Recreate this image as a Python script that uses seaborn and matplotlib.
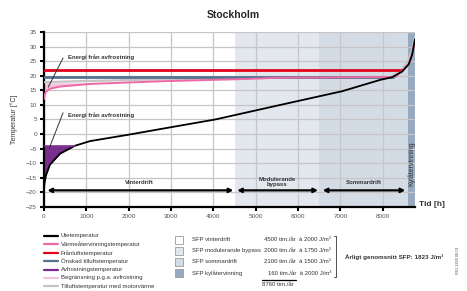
import matplotlib
matplotlib.use("Agg")
import matplotlib.pyplot as plt
import seaborn as sns
import numpy as np

# data
ute_h = [0, 15, 50, 140, 380, 730, 1090, 2000, 2740, 4040, 5580, 7040, 7940, 8220, 8450, 8610, 8690, 8760]
ute_t = [-19, -16.5, -14, -10.5, -6.7, -4, -2.4, -0.2, 1.7, 5, 10, 14.7, 18.6, 19.5, 21.4, 23.9, 27.2, 32.5]

vat_h = [0, 20, 50, 150, 380, 1090, 2740, 4800, 5500, 8300, 8450, 8610, 8690, 8760]
vat_t = [12, 13.6, 14.6, 15.6, 16.3, 17.2, 18.1, 18.9, 19.3, 19.6, 21.7, 23.9, 27.2, 32]

motor_h = [0, 1000, 2500, 4000, 5500, 8200, 8400, 8580, 8680, 8760]
motor_t = [17.8, 18.2, 18.7, 19.1, 19.4, 19.6, 21.4, 24.6, 28.2, 33]

fran_h = [0, 8450]
fran_t = [22, 22]
onsk_h = [0, 8250]
onsk_t = [19.5, 19.5]
avfrost_t = -4
begr_t = 17.6
begr_max_h = 300

band_edges = [0, 4500, 6500, 8600, 8760]
band_colors = ["#ffffff", "#e3e8ef", "#d3dbe5", "#98aabf"]

legend_lines = ["Utetemperatur", "Värmeåtervinningstemperatur", "Frånluftstemperatur",
                "Önskad tilluftstemperatur", "Avfrostningstemperatur",
                "Begränsning p.g.a. avfrostning", "Tilluftstemperatur med motorvärme"]
line_colors = ["#000000", "#ee6aa7", "#e2001a", "#557390", "#7b2d8e", "#f4c6de", "#c4c4c4"]

sfp_labels = ["SFP vinterdrift", "SFP modulerande bypass", "SFP sommardrift", "SFP kylåtervinning"]
sfp_hours = [4500, 2000, 2100, 160]
sfp_values = [2000, 1750, 1500, 2000]

sns.set_style("white")
plt.rcParams["font.family"] = ["Liberation Sans", "DejaVu Sans"]

fig = plt.figure(figsize=(4.67, 2.91), dpi=100)
ax = fig.add_axes([0.0942, 0.2887, 0.7945, 0.6013])

for i in range(4):
    ax.axvspan(band_edges[i], band_edges[i + 1], color=band_colors[i], lw=0, zorder=0)

ax.set_xlim(0, 8760)
ax.set_ylim(-25, 35)
ax.set_xticks(range(0, 9000, 1000))
ax.set_yticks(range(-25, 36, 5))
ax.grid(True, color="#c6c6c6", lw=0.9, zorder=1)
ax.set_axisbelow(True)

# fills
uh = np.array(ute_h); ut = np.array(ute_t)
ax.fill_between(uh, ut, avfrost_t, where=ut <= avfrost_t, interpolate=True,
                color="#7b2d8e", lw=0, zorder=2)
vh = np.array(vat_h); vt = np.array(vat_t)
ax.fill_between(vh, vt, begr_t, where=(vt <= begr_t) & (vh <= begr_max_h + 800), interpolate=True,
                color="#f4c6de", lw=0, zorder=2)

sns.lineplot(x=motor_h, y=motor_t, color=line_colors[6], lw=1.6, ax=ax, zorder=3)
sns.lineplot(x=onsk_h, y=onsk_t, color=line_colors[3], lw=2.0, ax=ax, zorder=4)
sns.lineplot(x=fran_h, y=fran_t, color=line_colors[2], lw=2.0, ax=ax, zorder=4)
sns.lineplot(x=vat_h, y=vat_t, color=line_colors[1], lw=1.4, ax=ax, zorder=5)
sns.lineplot(x=ute_h, y=ute_t, color="black", lw=1.3, ax=ax, zorder=5)
ax.plot([0, 730], [avfrost_t, avfrost_t], color="#7b2d8e", lw=1.2, zorder=5)

for s in ["top", "right"]:
    ax.spines[s].set_visible(False)
for s in ["left", "bottom"]:
    ax.spines[s].set_color("black")
    ax.spines[s].set_linewidth(1.6)
ax.tick_params(axis="both", direction="out", length=3, width=1.5, color="black",
               labelsize=4.6, labelcolor="#555555", pad=2)
ax.tick_params(axis="y", left=True)
ax.tick_params(axis="x", bottom=True)

ax.set_ylabel("Temperatur [°C]", fontsize=5, color="#333333", labelpad=6)
ax.set_xlabel("")
fig.text(0.897, 0.297, "Tid [h]", fontsize=6, fontweight="bold", color="#333333", va="center")
fig.text(0.5, 0.95, "Stockholm", fontsize=7.5, fontweight="bold", ha="center", va="center")

# arrows
arrow_y = -19.3
for (a, b) in [(80, 4470), (4560, 6470), (6580, 8530)]:
    ax.annotate("", xy=(a, arrow_y), xytext=(b, arrow_y),
                arrowprops=dict(arrowstyle="<->", color="black", lw=1.6,
                                mutation_scale=6, shrinkA=0, shrinkB=0))
ax.text(2250, -16.6, "Vinterdrift", fontsize=4.3, fontweight="bold", ha="center", va="center", color="#333333")
ax.text(5500, -16.3, "Modulerande\nbypass", fontsize=4.3, fontweight="bold", ha="center", va="center",
        color="#333333", linespacing=0.95)
ax.text(7550, -16.6, "Sommardrift", fontsize=4.3, fontweight="bold", ha="center", va="center", color="#333333")
ax.text(8682, -10, "Kylåtervinning", fontsize=5, rotation=90, ha="center", va="center", color="#333333")

# annotations
ax.plot([100, 450], [16.1, 26.1], color="#333333", lw=0.7, zorder=6)
ax.text(570, 26.4, "Energi från avfrostning", fontsize=4.3, fontweight="bold", va="center", color="#333333")
ax.plot([120, 450], [-5, 7.3], color="#333333", lw=0.7, zorder=6)
ax.text(570, 6.6, "Energi från avfrostning", fontsize=4.3, fontweight="bold", va="center", color="#333333")

# legend of lines
W, H = 467.0, 291.0
for i, (lab, c) in enumerate(zip(legend_lines, line_colors)):
    y = 1 - (236 + i * 8.4) / H
    fig.add_artist(plt.Line2D([44 / W, 58 / W], [y, y], color=c, lw=1.6))
    fig.text(61 / W, y, lab, fontsize=4.3, va="center", color="#333333")

# SFP legend
for i, lab in enumerate(sfp_labels):
    y = 1 - (239.5 + i * 11.2) / H
    fig.add_artist(plt.Rectangle((175 / W, y - 4 / H), 8 / W, 8 / H, facecolor=band_colors[i],
                                 edgecolor="#9a9a9a", lw=0.6))
    fig.text(192 / W, y, lab, fontsize=4.3, va="center", color="#333333")
    fig.text(331 / W, y, f"{sfp_hours[i]} tim./år  à {sfp_values[i]} J/m³", fontsize=4.3,
             va="center", ha="right", color="#333333")
fig.add_artist(plt.Line2D([262 / W, 296 / W], [1 - 279.5 / H, 1 - 279.5 / H], color="black", lw=0.9))
fig.text(262 / W, 1 - 284 / H, f"{sum(sfp_hours)} tim./år", fontsize=4.3, va="center", color="#333333")
fig.add_artist(plt.Line2D([334 / W, 336 / W, 336 / W, 334 / W],
                          [1 - 236 / H, 1 - 236 / H, 1 - 277 / H, 1 - 277 / H], color="#333333", lw=0.6))
fig.text(345 / W, 1 - 257 / H, "Årligt genomsnitt SFP: 1823 J/m³", fontsize=4.5, fontweight="bold",
         va="center", color="#333333")
fig.text(458 / W, 1 - 260 / H, "R01 2830 08 01", fontsize=2.8, rotation=90, va="center", ha="center",
         color="#555555")

fig.savefig("out.png", dpi=100)
